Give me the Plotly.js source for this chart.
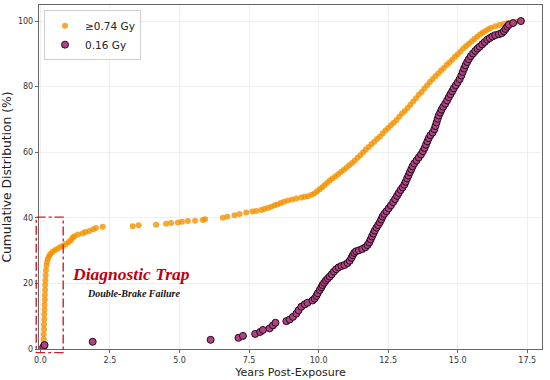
<!DOCTYPE html>
<html>
<head>
<meta charset="utf-8">
<script src="https://cdn.plot.ly/plotly-3.0.1.min.js"></script>
<style>html,body{margin:0;padding:0;background:#fff;}#chart{width:550px;height:380px;}</style>
</head>
<body>
<div id="chart"></div>
<script>
// ≥0.74 Gy series (years, cumulative %)
const orangeX = [0.10,0.11,0.12,0.12,0.13,0.13,0.14,0.14,0.15,0.15,0.16,0.16,0.17,0.17,0.18,0.19,0.20,0.22,0.24,0.27,0.31,0.36,0.43,0.52,0.62,0.72,0.82,0.92,1.02,1.10,1.16,1.22,1.35,1.52,1.62,1.76,1.90,2.00,2.24,3.32,3.53,4.16,4.52,4.70,4.94,5.09,5.30,5.56,5.84,5.92,6.56,6.72,6.98,7.16,7.40,7.62,7.76,7.94,8.05,8.18,8.30,8.42,8.52,8.64,8.76,8.90,9.05,9.20,9.38,9.50,9.62,9.75,9.86,9.95,10.04,10.13,10.22,10.31,10.40,10.50,10.60,10.70,10.80,10.90,11.00,11.10,11.20,11.30,11.40,11.50,11.60,11.70,11.80,11.90,12.00,12.10,12.20,12.30,12.40,12.50,12.60,12.70,12.80,12.90,13.00,13.10,13.20,13.30,13.40,13.50,13.60,13.70,13.80,13.90,14.00,14.10,14.20,14.30,14.40,14.50,14.60,14.70,14.80,14.90,15.00,15.10,15.20,15.30,15.40,15.50,15.60,15.70,15.80,15.90,16.00,16.10,16.20,16.35,16.50,16.65,16.80,16.95,17.10,17.30];
const orangeY = [0.3,1.5,3,4.5,6,7.5,9,10.5,12,13.5,15,16.5,18,19.5,21,22.5,24,25.5,26.5,27.5,28.3,29,29.6,30.1,30.6,31.1,31.5,32,32.6,33.2,33.9,34.4,34.9,35.3,35.7,36,36.5,36.9,37.3,37.4,37.7,37.9,38.2,38.4,38.6,38.8,39,39.1,39.3,39.6,40,40.3,40.8,41.2,41.6,41.9,42.1,42.4,42.7,43,43.4,43.8,44.1,44.5,44.9,45.3,45.6,45.9,46.2,46.4,46.6,47,47.5,48.1,48.7,49.3,50,50.7,51.4,52,52.6,53.3,54,54.6,55.3,56,56.7,57.5,58.3,59.1,60,60.8,61.6,62.4,63.2,64,64.7,65.7,66.6,67.4,68.2,69,69.8,70.8,71.8,72.6,73.5,74.5,75.5,76.5,77.5,78.4,79.4,80.4,81.4,82.3,83.2,84,84.9,85.7,86.6,87.4,88.2,89.1,89.9,90.7,91.6,92.4,93.1,93.8,94.5,95.2,95.9,96.5,97,97.5,98,98.4,98.8,99.1,99.4,99.6,99.8,100];

// 0.16 Gy series (years, cumulative %)
const purpleX = [0.10,0.15,1.88,6.12,7.12,7.28,7.72,7.90,8.00,8.24,8.36,8.45,8.84,8.96,9.08,9.20,9.28,9.38,9.50,9.60,9.78,9.86,9.92,9.97,10.04,10.10,10.14,10.20,10.26,10.33,10.40,10.47,10.55,10.63,10.72,10.82,10.93,11.04,11.12,11.18,11.23,11.28,11.35,11.45,11.57,11.68,11.76,11.82,11.87,11.92,11.97,12.02,12.08,12.14,12.20,12.25,12.30,12.36,12.44,12.52,12.60,12.68,12.75,12.82,12.88,12.95,13.02,13.08,13.13,13.18,13.23,13.28,13.33,13.38,13.44,13.52,13.60,13.68,13.75,13.81,13.86,13.91,13.96,14.02,14.10,14.16,14.20,14.24,14.28,14.32,14.37,14.42,14.48,14.55,14.62,14.68,14.74,14.80,14.86,14.93,15.00,15.07,15.13,15.18,15.23,15.28,15.34,15.40,15.47,15.55,15.63,15.71,15.79,15.88,15.97,16.06,16.15,16.25,16.35,16.48,16.58,16.66,16.72,16.78,16.84,16.99,17.27];
const purpleY = [0.5,1.2,2.2,2.8,3.4,4.0,4.6,5.2,5.8,6.3,7.2,8.0,8.5,9.0,9.8,10.8,11.8,12.9,13.6,14.1,14.8,15.4,16.2,17,18,18.8,19.5,20.2,20.9,21.5,22.1,22.8,23.6,24.3,24.9,25.3,25.6,26.2,26.9,27.8,28.6,29.3,29.8,30.1,30.5,31.0,31.7,32.5,33.4,34.3,35.2,36.1,37,37.8,38.6,39.5,40.4,41.2,42.0,42.9,43.8,44.8,45.7,46.7,47.6,48.5,49.3,50.1,51,52,52.9,53.9,54.8,55.7,56.6,57.5,58.4,59.3,60.3,61.3,62.3,63.3,64.3,65.2,66,67,68,69.1,70.2,71.2,72.1,73,73.9,74.8,75.8,76.8,77.7,78.6,79.5,80.4,81.3,82.3,83.4,84.5,85.5,86.5,87.5,88.4,89.3,90.1,90.9,91.6,92.2,92.9,93.6,94.3,94.8,95.3,95.7,96.0,96.3,96.9,97.6,98.3,98.9,99.4,100];

const seriesNames = ['≥0.74 Gy', '0.16 Gy'];
const xTicks = [0, 2.5, 5, 7.5, 10, 12.5, 15, 17.5];
const yTicks = [0, 20, 40, 60, 80, 100];
const trapBox = {x0: -0.15, x1: 0.82, y0: -1.1, y1: 40.2};

const xRange = [-0.05, 18.03];
const yRange = [0, 104.9];
const px = v => (v - xRange[0]) / (xRange[1] - xRange[0]);
const py = v => (v - yRange[0]) / (yRange[1] - yRange[0]);

const traces = [
  {x: orangeX, y: orangeY, name: seriesNames[0], type: 'scatter', mode: 'markers',
   marker: {size: 6, color: 'rgba(243,146,0,0.8)', line: {width: 0}}},
  {x: purpleX, y: purpleY, name: seriesNames[1], type: 'scatter', mode: 'markers',
   marker: {size: 7, color: '#ad4584', line: {width: 1, color: '#26071a'}}}
];

const axisCommon = {
  showline: true, linecolor: '#666', linewidth: 1.2, mirror: true,
  ticks: 'outside', ticklen: 3, tickcolor: '#666', tickwidth: 1,
  showgrid: true, gridcolor: '#ebebeb', gridwidth: 0.8, zeroline: false,
  tickfont: {family: 'DejaVu Sans', size: 8, color: '#333'}
};

const layout = {
  width: 550, height: 380,
  margin: {l: 39, r: 8, t: 5, b: 31},
  paper_bgcolor: '#fff', plot_bgcolor: '#fff',
  showlegend: true,
  legend: {x: 0.01, y: 0.985, xanchor: 'left', yanchor: 'top',
    bgcolor: 'rgba(255,255,255,0.9)', bordercolor: '#d0d0d0', borderwidth: 1,
    font: {family: 'DejaVu Sans', size: 10.5, color: '#222'}},
  xaxis: Object.assign({}, axisCommon, {
    range: xRange, tickvals: xTicks, tickformat: '.1f',
    title: {text: 'Years Post-Exposure', standoff: 4, font: {family: 'DejaVu Sans', size: 11, color: '#222'}}
  }),
  yaxis: Object.assign({}, axisCommon, {
    range: yRange, tickvals: yTicks,
    title: {text: 'Cumulative Distribution (%)', standoff: 4, font: {family: 'DejaVu Sans', size: 12.3, color: '#222'}}
  }),
  shapes: [{
    type: 'rect', xref: 'paper', yref: 'paper',
    x0: px(trapBox.x0), x1: px(trapBox.x1), y0: py(trapBox.y0), y1: py(trapBox.y1),
    line: {color: '#cc1f2a', width: 1.4, dash: 'dashdot'}, fillcolor: 'rgba(0,0,0,0)', layer: 'above'
  }],
  annotations: [
    {x: 3.26, y: 22.9, xref: 'x', yref: 'y', showarrow: false,
     text: '<b><i>Diagnostic Trap</i></b>',
     font: {family: 'Liberation Serif', size: 17.5, color: '#c00010'}},
    {x: 3.37, y: 16.8, xref: 'x', yref: 'y', showarrow: false,
     text: '<b><i>Double-Brake Failure</i></b>',
     font: {family: 'Liberation Serif', size: 10, color: '#111'}}
  ]
};

Plotly.newPlot('chart', traces, layout, {displayModeBar: false, staticPlot: true});
</script>
</body>
</html>
